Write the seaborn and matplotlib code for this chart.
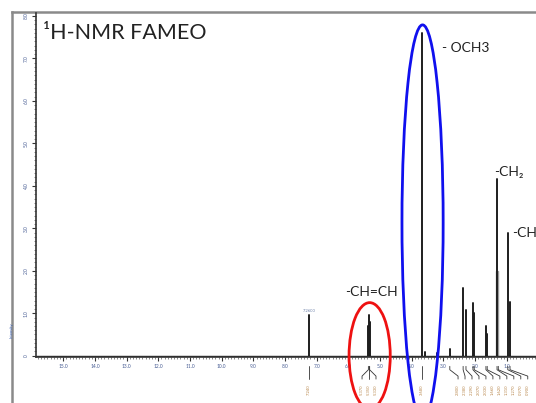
import numpy as np
import pandas as pd
import matplotlib
matplotlib.use("Agg")
import matplotlib.pyplot as plt
import seaborn as sns
from matplotlib.patches import Ellipse
from matplotlib.ticker import MultipleLocator, FormatStrFormatter

# ---------------- data ----------------
peak_ppm = [7.24, 5.37, 5.35, 5.33, 3.68, 3.59, 3.21, 2.80, 2.38, 2.29,
            2.07, 2.03, 1.66, 1.62, 1.31, 0.97, 0.90]
peak_int = [0.97, 0.70, 0.96, 0.80, 7.60, 0.08, 0.07, 0.15, 1.60, 1.08,
            1.24, 1.00, 0.70, 0.50, 4.17, 2.88, 1.26]
shoulder_ppm = [1.34, 1.28]
shoulder_int = [2.00, 2.00]

x_ticks = [15, 14, 13, 12, 11, 10, 9, 8, 7, 6, 5, 4, 3, 2, 1]
y_ticks = [0, 1, 2, 3, 4, 5, 6, 7, 8]

title = "\u00b9H-NMR FAMEO"
group_names = ["- OCH3", "-CH\u2082", "-CH", "-CH=CH"]
group_ppm = [3.05, 1.41, 0.84, 6.11]
group_int = [7.25, 4.33, 2.90, 1.50]

# peak-picking groups below the axis
pick_groups = [[7.24], [5.37, 5.35, 5.33], [3.68],
               [2.80, 2.38, 2.29, 2.07, 2.03, 1.66, 1.62, 1.31, 1.27, 0.97, 0.90]]
pick_centres = [7.24, 5.35, 3.68, 1.44]

# highlighted regions (ellipses): centre ppm, centre intensity, width ppm, height
ell_ppm = [5.33, 3.66]
ell_int = [0.00, 3.14]
ell_w = [1.30, 1.30]
ell_h = [2.50, 9.30]
ell_col = ["#ee1111", "#1010ee"]

# ---------------- figure ----------------
sns.set_theme(style="white")
plt.rcParams["font.family"] = ["Lato", "DejaVu Sans"]

W, H = 536, 403
fig = plt.figure(figsize=(W / 100, H / 100), dpi=100)

# outer slide frame
frame = fig.add_axes([12 / W, 0, 1 - 12 / W, 391 / H], zorder=0)
frame.set_xticks([]); frame.set_yticks([])
frame.patch.set_alpha(0)
for s in ["right", "bottom"]:
    frame.spines[s].set_visible(False)
for s in ["left", "top"]:
    frame.spines[s].set_color("#8a8a8a")
    frame.spines[s].set_linewidth(1.8)

ax = fig.add_axes([36 / W, 46 / H, 500 / W, 344 / H], zorder=2)
ax.patch.set_alpha(0)

rows = []
for i, (p, h) in enumerate(zip(peak_ppm, peak_int)):
    rows += [(p, 0.0, i), (p, h, i)]
df = pd.DataFrame(rows, columns=["ppm", "intensity", "peak"])
rows = []
for i, (p, h) in enumerate(zip(shoulder_ppm, shoulder_int)):
    rows += [(p, 0.0, i), (p, h, i)]
df_sh = pd.DataFrame(rows, columns=["ppm", "intensity", "peak"])

sns.lineplot(data=df_sh, x="ppm", y="intensity", units="peak", estimator=None,
             sort=False, color="#9a9a9a", lw=1.0, ax=ax, legend=False)
sns.lineplot(data=df, x="ppm", y="intensity", units="peak", estimator=None,
             sort=False, color="#1e1e1e", lw=1.4, ax=ax, legend=False)
ax.axhline(0, color="#1e1e1e", lw=1.0)

ax.set_xlim(15.86, 0.08)
ax.set_ylim(-0.03, 8.07)
ax.set_xlabel(""); ax.set_ylabel("")

for s in ["top", "right"]:
    ax.spines[s].set_visible(False)
for s in ["left", "bottom"]:
    ax.spines[s].set_color("#333333")
    ax.spines[s].set_linewidth(1.2)

ax.set_xticks(x_ticks)
ax.xaxis.set_major_formatter(FormatStrFormatter("%.1f"))
ax.xaxis.set_minor_locator(MultipleLocator(0.1))
ax.set_yticks(y_ticks)
ax.set_yticklabels(["0"] + [f"{v:.1f}" for v in y_ticks[1:]])
ax.yaxis.set_minor_locator(MultipleLocator(0.1))
ax.tick_params(axis="both", which="major", length=3, width=0.8, color="#333333",
               labelsize=3.5, labelcolor="#4a5f95", pad=2, bottom=True, left=True)
ax.tick_params(axis="both", which="minor", length=1.6, width=0.5, color="#555555",
               bottom=True, left=True)
for lab in ax.get_yticklabels():
    lab.set_rotation(90)
    lab.set_va("center")

# tiny y label
fig.text(12 / W, 1 - 330 / H, "Intensity", rotation=90, fontsize=3, color="#3a5fb0",
         ha="center", va="center")

# title & group labels
ax.text(0.014, 0.972, title, transform=ax.transAxes, fontsize=15.5, color="#222222",
        ha="left", va="top")
for name, p, h in zip(group_names, group_ppm, group_int):
    ax.text(p, h, name, fontsize=10, color="#222222", ha="left", va="center")

# small solvent label above the 7.26 peak
ax.text(7.24, 1.0, "7.2600", fontsize=3, color="#6a7fa8", ha="center", va="bottom")

# peak picking marks below the axis
for grp, c in zip(pick_groups, pick_centres):
    n = len(grp)
    slots = [c - (k - (n - 1) / 2) * 0.22 for k in range(n)]
    for p, s in zip(grp, slots):
        ax.plot([p, p, s, s], [-0.25, -0.33, -0.48, -0.55], color="#333333", lw=0.6,
                clip_on=False)
        ax.text(s, -0.68, f"{p:.3f}", rotation=90, fontsize=3, color="#b8864b",
                ha="center", va="top", clip_on=False)

# ellipses
for cx, cy, w, h, col in zip(ell_ppm, ell_int, ell_w, ell_h, ell_col):
    ax.add_patch(Ellipse((cx, cy), w, h, fill=False, edgecolor=col, lw=2.0,
                         clip_on=False, zorder=5))

fig.savefig("out.png", dpi=100)
